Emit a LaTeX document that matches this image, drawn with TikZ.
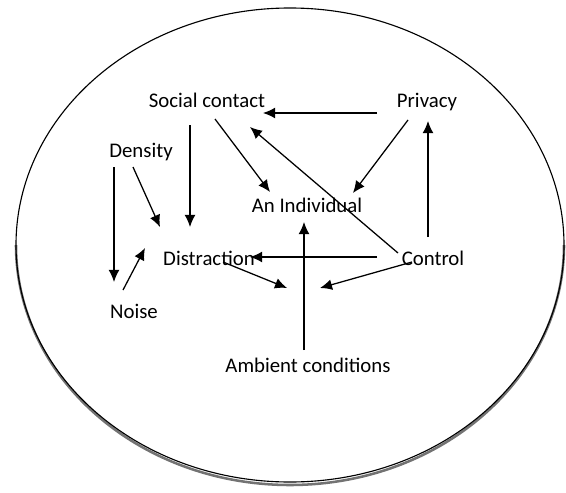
\documentclass[tikz,border=0pt]{standalone}
\usepackage{fontspec}
\setmainfont{Carlito}
\usetikzlibrary{calc,arrows.meta}

\begin{document}
\begin{tikzpicture}[x=0.025cm, y=-0.025cm,
    lbl/.style={font=\fontsize{14.8}{17}\selectfont, inner sep=0pt, anchor=base},
    arr/.style={-{Latex[length=3mm,width=2.7mm]}, line width=0.9pt}]
				\useasboundingbox (0,0) rectangle (566,493);
				
				\begin{scope}
				\clip (0,245) rectangle (566,493);
				\draw[black!55, line width=1.8pt] (290,245) ellipse[x radius=274, y radius=240];
				\end{scope}
				\draw[line width=0.8pt] (290,245) ellipse[x radius=274, y radius=237];
				
				\node[lbl] (social) at (207,107) {Social contact};
				\node[lbl] (privacy) at (427,107) {Privacy};
				\node[lbl] (density) at (141,157) {Density};
				\node[lbl] (indiv) at (307,212) {An Individual};
				\node[lbl] (distr) at (209,265) {Distraction};
				\node[lbl] (control) at (433,265) {Control};
				\node[lbl] (noise) at (134,318) {Noise};
				\node[lbl] (ambient) at (308,372) {Ambient conditions};
				\coordinate (m1) at (287,288);
				\coordinate (m2) at (320,288);
				
				\draw[arr] ($(privacy.base)+(-50,6)$) -- ($(social.base)+(56,6)$);
				\draw[arr] ($(privacy.base)+(-19,13)$) -- ($(indiv.base)+(46,-19)$);
				\draw[arr] ($(control.base)+(-5,-28)$) -- ($(privacy.base)+(1,14)$);
				\draw[arr] ($(control.base)+(-35,-12)$) -- ($(social.base)+(43,20)$);
				\draw[arr] ($(social.base)+(8,12)$) -- ($(indiv.base)+(-37,-20)$);
				\draw[arr] ($(social.base)+(-17,18)$) -- ($(distr.base)+(-19,-38)$);
				\draw[arr] ($(density.base)+(-8,10)$) -- ($(distr.base)+(-49,-38)$);
				\draw[arr] ($(density.base)+(-27,10)$) -- ($(noise.base)+(-20,-36)$);
				\draw[arr] ($(noise.base)+(-11,-28)$) -- ($(distr.base)+(-64,-17)$);
				\draw[arr] ($(control.base)+(-56,-8)$) -- ($(distr.base)+(41,-8)$);
				\draw[arr] ($(distr.base)+(14,-3)$) -- (m1);
				\draw[arr] ($(control.base)+(-21,-3)$) -- (m2);
				\draw[arr] ($(ambient.base)+(-4,-22)$) -- ($(indiv.base)+(-3,10)$);
			\end{tikzpicture}
\end{document}
